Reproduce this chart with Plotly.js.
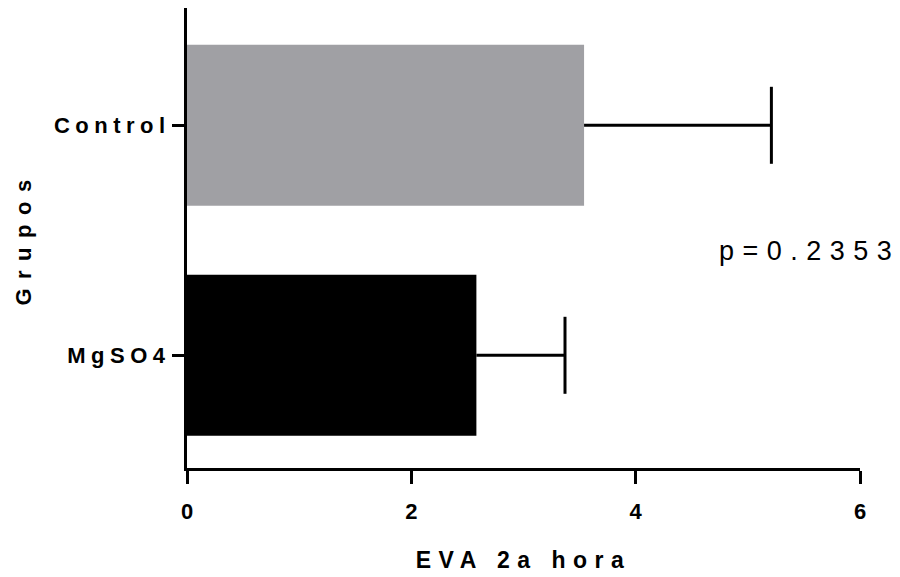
<!DOCTYPE html>
<html>
<head>
<meta charset="utf-8">
<script src="https://cdn.plot.ly/plotly-3.0.1.min.js"></script>
<style>
  html, body { margin: 0; padding: 0; background: #fff; }
  #chart { width: 900px; height: 577px; }
  .ytick text { letter-spacing: 5.5px; }
  .g-xtitle text { letter-spacing: 7.5px; }
  .g-ytitle text { letter-spacing: 9.5px; }
  .annotation-text { letter-spacing: 8.5px; }
</style>
</head>
<body>
<div id="chart"></div>
<script>
// Data
const groups = ["MgSO4", "Control"];
const meanValues = [2.58, 3.54];
const errorPlus = [0.79, 1.67];
const errorMinus = [0, 0];
const barColors = ["#000000", "#a0a0a4"];
const xTickValues = [0, 2, 4, 6];
const pValueText = "p=0.2353";

const barTrace = {
  type: "bar",
  orientation: "h",
  y: groups,
  x: meanValues,
  width: 0.7,
  marker: { color: barColors, line: { width: 0 } },
  error_x: {
    type: "data",
    symmetric: false,
    array: errorPlus,
    arrayminus: errorMinus,
    color: "#000000",
    thickness: 3,
    width: 0
  },
  hoverinfo: "skip"
};

// caps only at the outer end of each error bar
const capTrace = {
  type: "scatter",
  mode: "markers",
  y: groups,
  x: meanValues.map((m, i) => m + errorPlus[i]),
  marker: {
    symbol: "line-ns",
    size: 55,
    color: "#000000",
    line: { color: "#000000", width: 3 }
  },
  hoverinfo: "skip",
  cliponaxis: false
};

const layout = {
  width: 900,
  height: 577,
  margin: { l: 187, r: 40, t: 8, b: 109, pad: 0 },
  paper_bgcolor: "#ffffff",
  plot_bgcolor: "#ffffff",
  showlegend: false,
  font: { family: "Arial, 'Liberation Sans', sans-serif", color: "#000000" },
  xaxis: {
    range: [0, 6],
    tickvals: xTickValues,
    ticktext: xTickValues.map(String),
    showgrid: false,
    zeroline: false,
    showline: true,
    linecolor: "#000000",
    linewidth: 3,
    ticks: "outside",
    ticklen: 13,
    tickwidth: 3,
    tickcolor: "#000000",
    ticklabelstandoff: 9,
    tickfont: { size: 22, weight: "bold", color: "#000000" },
    title: { text: "EVA 2a hora", font: { size: 23, weight: "bold", color: "#000000" }, standoff: 29 },
    fixedrange: true
  },
  yaxis: {
    type: "category",
    categoryorder: "array",
    categoryarray: groups,
    range: [-0.49, 1.51],
    showgrid: false,
    zeroline: false,
    showline: true,
    linecolor: "#000000",
    linewidth: 3,
    ticks: "outside",
    ticklen: 12,
    tickwidth: 3,
    tickcolor: "#000000",
    ticklabelstandoff: -3,
    tickfont: { size: 22, weight: "bold", color: "#000000" },
    title: { text: "Grupos", font: { size: 22, weight: "bold", color: "#000000" }, standoff: 17 },
    fixedrange: true
  },
  annotations: [{
    text: pValueText,
    xref: "paper",
    yref: "paper",
    x: 0.925,
    y: 0.472,
    xanchor: "center",
    yanchor: "middle",
    showarrow: false,
    font: { size: 27, color: "#000000" }
  }]
};

Plotly.newPlot("chart", [barTrace, capTrace], layout, { staticPlot: true, displayModeBar: false });
</script>
</body>
</html>
